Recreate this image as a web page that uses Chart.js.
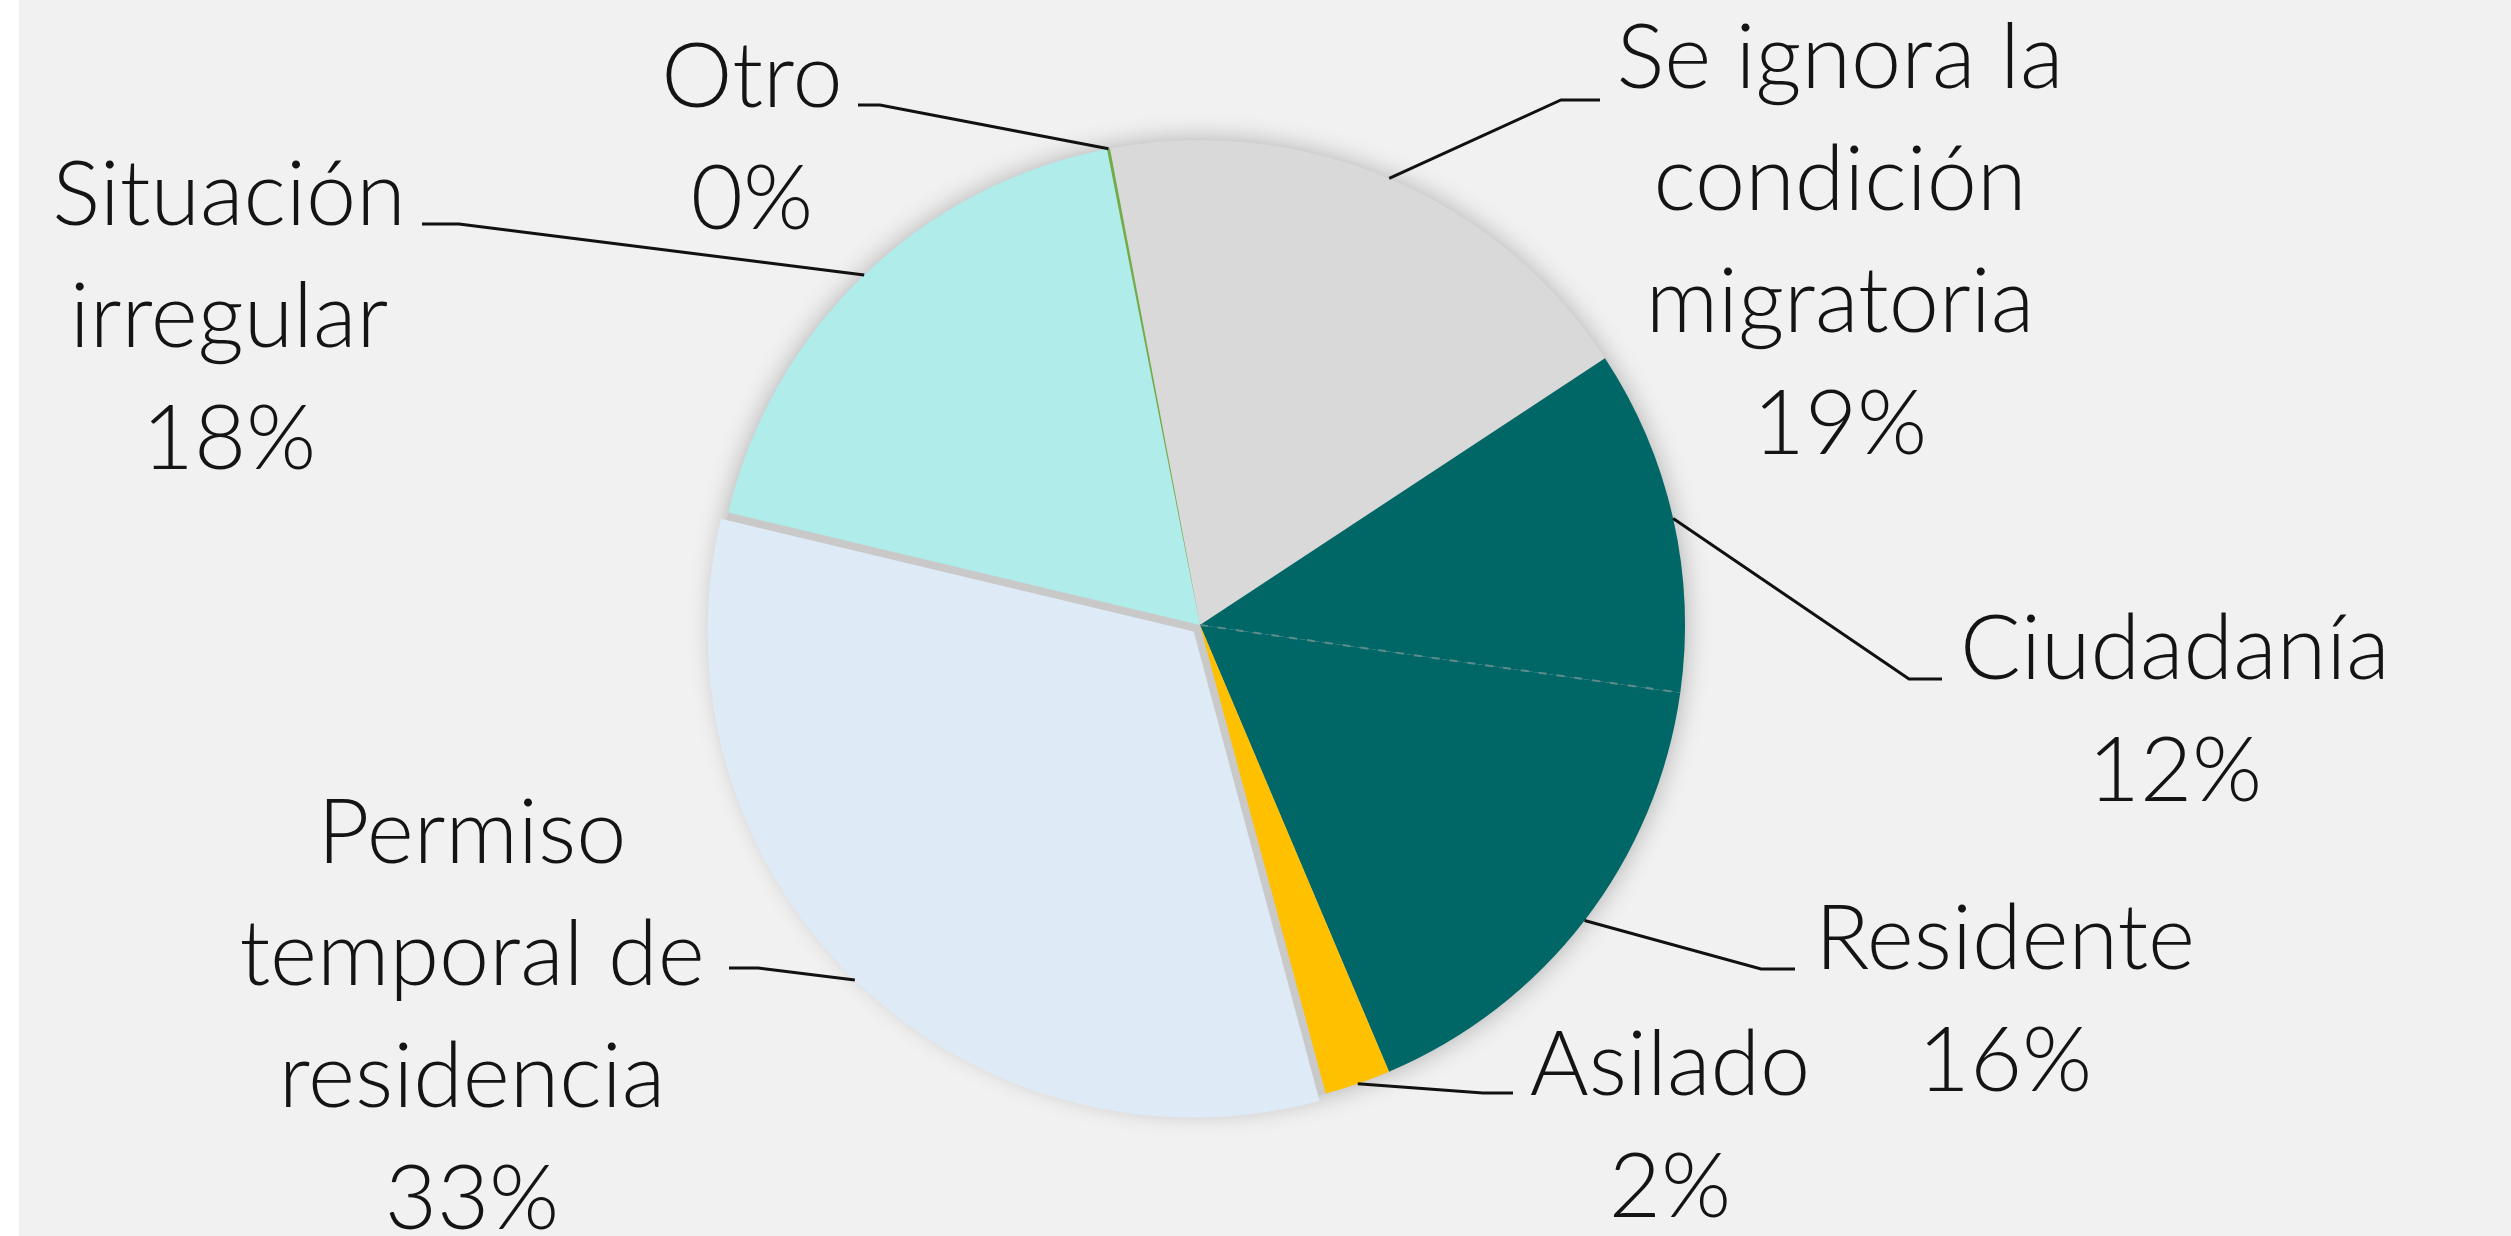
<!DOCTYPE html>
<html><head><meta charset="utf-8">
<script src="https://cdn.jsdelivr.net/npm/chart.js@4.4.1/dist/chart.umd.min.js"></script>
<style>
html,body{margin:0;padding:0;background:#fff;}
#wrap{position:absolute;left:19px;top:0;width:2492px;height:1236px;background:#f1f1f1;}
canvas{display:block;}
</style></head><body>
<div id="wrap"><canvas id="c" width="2492" height="1236"></canvas></div>
<script>
// ---- data ----
const categories = ['Se ignora la condición migratoria','Ciudadanía','Residente','Asilado','Permiso temporal de residencia','Situación irregular','Otro'];
const shares = [18.7, 11.5, 16.4, 2.2, 32.9, 18.2, 0.1];
const labelLines = [['Se ignora la','condición','migratoria'],['Ciudadanía'],['Residente'],['Asilado'],['Permiso','temporal de','residencia'],['Situación','irregular'],['Otro']];

// ---- style ----
const sliceColors = ['#d9d9d9','#006666','#006666','#ffc000','#deeaf6','#afecea','#70ad47'];
const sliceOffsets = [0,0,0,0,36,0,0];
const FONT_FAMILY = 'Lato, Carlito, sans-serif';
const FONT_WEIGHT = 300;
const FONT_SIZE = 90;
const LINE_H = 122;
const TEXT_COLOR = '#141414';
// label placement relative to pie centre (px): text centre x, first baseline y, elbow, stub end
const placement = [
  {tx:640, ty:-537, elbow:[361,-525], stub:[400,-525]},
  {tx:975, ty:54,   elbow:[709,54],   stub:[742,54]},
  {tx:805, ty:344,  elbow:[561,344],  stub:[595,344]},
  {tx:470, ty:470,  elbow:[283,468],  stub:[313,468]},
  {tx:-728,ty:238,  elbow:[-442,343], stub:[-471,343]},
  {tx:-971,ty:-400, elbow:[-741,-401],stub:[-778,-401]},
  {tx:-448,ty:-518, elbow:[-320,-520],stub:[-342,-520]}
];

const total = shares.reduce((a,b)=>a+b,0);
const pctText = shares.map(v => Math.round(v/total*100) + '%');

function arcOffsetVec(el, off){
  const half = (el.startAngle + el.endAngle)/2;
  const circ = el.endAngle - el.startAngle;
  const o = off/4;
  const fix = 1 - Math.sin(Math.min(Math.PI, circ));
  const t = o + o*fix;
  return [Math.cos(half)*t, Math.sin(half)*t];
}

const backdrop = {
  id:'backdrop',
  beforeDatasetsDraw(chart){
    const el = chart.getDatasetMeta(0).data[0];
    const ctx = chart.ctx;
    ctx.save();
    ctx.shadowColor = 'rgba(0,0,0,0.28)';
    ctx.shadowBlur = 26;
    ctx.beginPath();
    ctx.arc(el.x, el.y, el.outerRadius, 0, Math.PI*2);
    ctx.fillStyle = '#c9c9c9';
    ctx.fill();
    ctx.restore();
  }
};

const labelsPlugin = {
  id:'labelsPlugin',
  afterDatasetsDraw(chart){
    const meta = chart.getDatasetMeta(0);
    const ctx = chart.ctx;
    // dashed separator between Ciudadanía and Residente
    const e1 = meta.data[1];
    ctx.save();
    ctx.strokeStyle = '#5f8c8b';
    ctx.lineWidth = 2;
    ctx.setLineDash([8,10]);
    ctx.beginPath();
    ctx.moveTo(e1.x, e1.y);
    ctx.lineTo(e1.x + Math.cos(e1.endAngle)*e1.outerRadius, e1.y + Math.sin(e1.endAngle)*e1.outerRadius);
    ctx.stroke();
    ctx.restore();

    meta.data.forEach((el, i) => {
      const p = placement[i];
      const cx = el.x, cy = el.y;
      const [ox, oy] = arcOffsetVec(el, sliceOffsets[i]);
      const mid = (el.startAngle + el.endAngle)/2;
      const ax = cx + ox + Math.cos(mid)*el.outerRadius;
      const ay = cy + oy + Math.sin(mid)*el.outerRadius;
      ctx.save();
      ctx.strokeStyle = '#111';
      ctx.lineWidth = 3;
      ctx.beginPath();
      ctx.moveTo(ax, ay);
      ctx.lineTo(cx + p.elbow[0], cy + p.elbow[1]);
      ctx.lineTo(cx + p.stub[0], cy + p.stub[1]);
      ctx.stroke();
      ctx.fillStyle = TEXT_COLOR;
      ctx.font = `${FONT_WEIGHT} ${FONT_SIZE}px ${FONT_FAMILY}`;
      ctx.textAlign = 'center';
      ctx.textBaseline = 'alphabetic';
      const lines = labelLines[i].concat([pctText[i]]);
      lines.forEach((t, k) => ctx.fillText(t, cx + p.tx, cy + p.ty + k*LINE_H));
      ctx.restore();
    });
  }
};

new Chart(document.getElementById('c'), {
  type:'pie',
  data:{
    labels: categories,
    datasets:[{
      data: shares,
      backgroundColor: sliceColors,
      borderWidth: 0,
      offset: sliceOffsets,
      clip: false
    }]
  },
  options:{
    responsive:false,
    animation:false,
    rotation:-10.7,
    radius:485,
    layout:{padding:{left:0,right:130,top:14,bottom:0}},
    plugins:{legend:{display:false},tooltip:{enabled:false}}
  },
  plugins:[backdrop, labelsPlugin]
});
</script>
</body></html>
